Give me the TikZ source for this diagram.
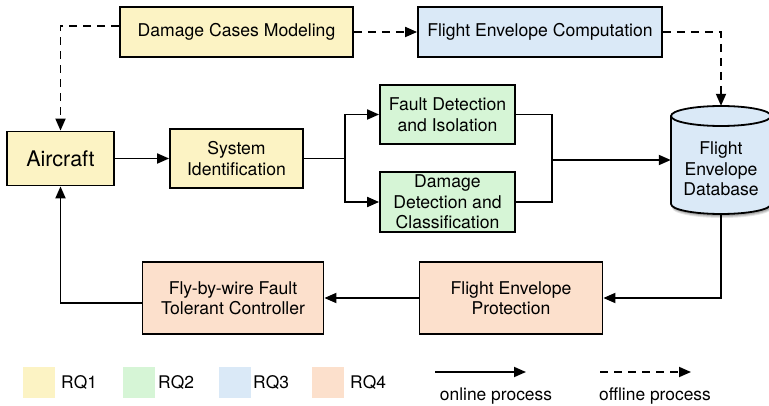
\documentclass[tikz,border=0pt]{standalone}
\usepackage{fontspec}
\setmainfont{TeX Gyre Heros}
\usetikzlibrary{arrows.meta}

\definecolor{rqone}{RGB}{252,243,196}
\definecolor{rqtwo}{RGB}{214,245,214}
\definecolor{rqthree}{RGB}{218,233,247}
\definecolor{rqfour}{RGB}{252,224,204}

\tikzset{
  blk/.style={draw=black, line width=1.8pt, align=center, inner sep=2pt,
    font=\fontsize{17.6}{20.5}\selectfont},
  online/.style={line width=1.8pt, -{Triangle[length=12pt,width=10pt]}},
  plain/.style={line width=1.8pt},
  offline/.style={line width=1.8pt, dash pattern=on 8pt off 6pt,
    -{Triangle[length=12pt,width=10pt]}},
  swatch/.style={minimum width=32pt, minimum height=31pt, inner sep=0pt},
  legtext/.style={font=\fontsize{17.4}{20}\selectfont, inner sep=0pt},
}

\begin{document}
\begin{tikzpicture}[x=1pt,y=-1pt]
\useasboundingbox (0,0) rectangle (769,406);

% process blocks
\node[blk, fill=rqone, minimum width=233pt, minimum height=50pt] (dcm) at (236.5,32) {Damage Cases Modeling};
\node[blk, fill=rqthree, minimum width=244pt, minimum height=50pt] (fec) at (540,32) {Flight Envelope Computation};
\node[blk, fill=rqone, minimum width=107pt, minimum height=54pt,
      font=\fontsize{21.5}{24}\selectfont] (air) at (60.5,158.5) {Aircraft};
\node[blk, fill=rqone, minimum width=133pt, minimum height=59pt] (sid) at (236.5,158.5) {System\\Identification};
\node[blk, fill=rqtwo, minimum width=135pt, minimum height=59pt] (fdi) at (447.5,114.5) {Fault Detection\\and Isolation};
\node[blk, fill=rqtwo, minimum width=135pt, minimum height=60pt] (ddc) at (447.5,202) {Damage\\Detection and\\Classification};
\node[blk, fill=rqfour, minimum width=183pt, minimum height=72pt] (fep) at (511,298) {Flight Envelope\\Protection};
\node[blk, fill=rqfour, minimum width=181pt, minimum height=72pt] (fbw) at (233,298) {Fly-by-wire Fault\\Tolerant Controller};

% database cylinder (y axis points down, so arc angles run mirrored)
\node[minimum width=100pt, minimum height=108pt, inner sep=0pt] (db) at (721,160) {};
\foreach \s/\o in {4/0.10,3/0.12,2/0.15}{
  \fill[black, opacity=\o, shift={(1,\s)}]
    (671,116) -- (671,204) arc (180:0:50 and 10) -- (771,116) arc (0:-180:50 and 10) -- cycle;
}
\filldraw[fill=rqthree, draw=black, line width=1.8pt]
  (671,116) -- (671,204) arc (180:0:50 and 10) -- (771,116) arc (0:-180:50 and 10) -- cycle;
\draw[line width=1.8pt] (771,116) arc (0:180:50 and 10);
\node[align=center, font=\fontsize{17.6}{20.5}\selectfont] (dbtext) at (721,169) {Flight\\Envelope\\Database};

% offline connectors
\draw[offline] ([yshift=6pt]dcm.west) -| (air.north);
\draw[offline] (dcm.east) -- (fec.west);
\draw[offline] (fec.east) -| (db.north);

% online connectors
\coordinate (split) at (345,158.5);
\coordinate (merge) at (552,160);
\draw[online] (air.east) -- (sid.west);
\draw[plain] (sid.east) -- (split);
\draw[online] (split) |- (fdi.west);
\draw[online] (split) |- (ddc.west);
\draw[plain] (fdi.east) -| (merge);
\draw[plain] (ddc.east) -| (merge);
\draw[online] (merge) -- (db.west);
\draw[online] (db.south) |- (fep.east);
\draw[online] (fep.west) -- (fbw.east);
\draw[online] ([yshift=-5pt]fbw.west) -| (air.south);

% legend
\node[swatch, fill=rqone] (lg1) at (39,382.5) {};
\node[swatch, fill=rqtwo] (lg2) at (139,382.5) {};
\node[swatch, fill=rqthree] (lg3) at (235,382.5) {};
\node[swatch, fill=rqfour] (lg4) at (328,382.5) {};
\node[legtext, anchor=west] (lt1) at (61,382.5) {RQ1};
\node[legtext, anchor=west] (lt2) at (158,382.5) {RQ2};
\node[legtext, anchor=west] (lt3) at (253,382.5) {RQ3};
\node[legtext, anchor=west] (lt4) at (350,382.5) {RQ4};

\coordinate (on1) at (435,372);
\coordinate (on2) at (526,372);
\coordinate (off1) at (600,372);
\coordinate (off2) at (691,372);
\draw[online] (on1) -- (on2);
\draw[offline] (off1) -- (off2);
\node[legtext] (ontext) at (496,396) {online process};
\node[legtext] (offtext) at (655,396) {offline process};
\end{tikzpicture}
\end{document}
